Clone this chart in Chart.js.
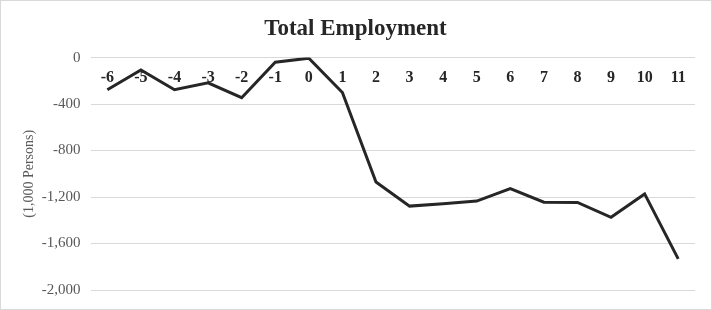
<!DOCTYPE html>
<html>
<head>
<meta charset="utf-8">
<script src="https://cdn.jsdelivr.net/npm/chart.js@4/dist/chart.umd.min.js"></script>
<style>
  html, body { margin: 0; padding: 0; background: #fff; }
  #wrap { width: 712px; height: 310px; box-sizing: border-box; border: 1px solid #d9d9d9; }
</style>
</head>
<body>
<div id="wrap"><canvas id="chart" width="710" height="308"></canvas></div>
<script>
const periods = ['-6', '-5', '-4', '-3', '-2', '-1', '0', '1', '2', '3', '4', '5', '6', '7', '8', '9', '10', '11'];
const employment = [-277, -106, -277, -217, -345, -40, -5, -300, -1071, -1278, -1258, -1235, -1128, -1244, -1247, -1374, -1173, -1732];
const yTicks = [0, -400, -800, -1200, -1600, -2000];

const serif = "'Liberation Serif', 'DejaVu Serif', serif";

const ctx = document.getElementById('chart').getContext('2d');
new Chart(ctx, {
    type: 'line',
    data: {
        labels: periods,
        datasets: [{
            label: 'Total Employment',
            data: employment,
            borderColor: '#262626',
            borderWidth: 3,
            pointRadius: 0,
            fill: false,
            tension: 0
        }]
    },
    options: {
        responsive: false,
        animation: false,
        layout: { padding: { left: 15, right: 16, top: 4, bottom: -3 } },
        plugins: {
            legend: { display: false },
            tooltip: { enabled: false },
            title: {
                display: true,
                text: 'Total Employment',
                color: '#262626',
                font: { family: serif, size: 23, weight: 'bold' },
                padding: { top: 10, bottom: 15 }
            }
        },
        scales: {
            x: {
                position: { y: 0 },
                offset: true,
                grid: { display: false },
                border: { display: false },
                ticks: {
                    color: '#262626',
                    padding: 3,
                    maxRotation: 0,
                    autoSkip: false,
                    font: { family: serif, size: 16, weight: 'bold' }
                }
            },
            y: {
                min: -2000,
                max: 0,
                afterBuildTicks: axis => { axis.ticks = yTicks.map(v => ({ value: v })); },
                grid: { color: '#d9d9d9', lineWidth: 1, drawTicks: false },
                border: { display: false },
                ticks: {
                    color: '#595959',
                    padding: 10,
                    font: { family: serif, size: 15 },
                    callback: v => v.toLocaleString('en-US')
                },
                title: {
                    display: true,
                    text: '(1,000 Persons)',
                    color: '#595959',
                    font: { family: serif, size: 14 },
                    padding: { top: 5, bottom: -6 }
                }
            }
        }
    }
});
</script>
</body>
</html>
